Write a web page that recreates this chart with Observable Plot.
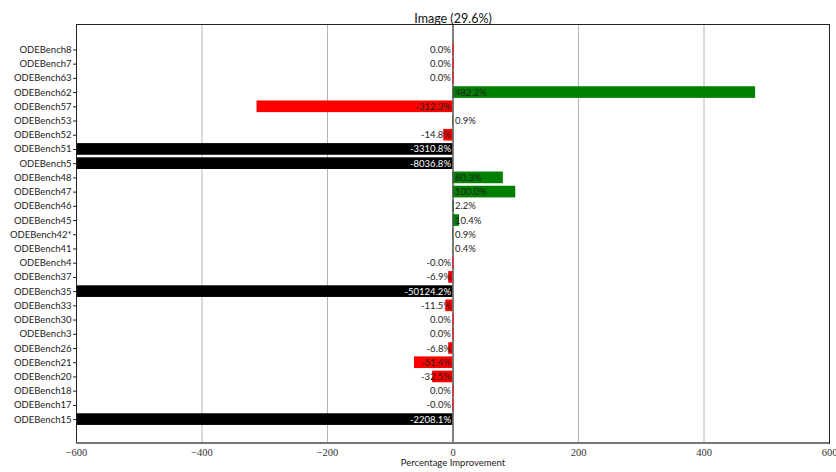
<!DOCTYPE html>
<html>
<head>
<meta charset="utf-8">
<script src="https://cdn.jsdelivr.net/npm/d3@7"></script>
<script src="https://cdn.jsdelivr.net/npm/@observablehq/plot@0.6"></script>
<style>
  html, body { margin: 0; padding: 0; background: #fff; }
  #chart svg { display: block; }
</style>
</head>
<body>
<div id="chart"></div>
<script>
// Benchmarks, top to bottom
const benchmarks = [
  "ODEBench8", "ODEBench7", "ODEBench63", "ODEBench62", "ODEBench57", "ODEBench53",
  "ODEBench52", "ODEBench51", "ODEBench5", "ODEBench48", "ODEBench47", "ODEBench46",
  "ODEBench45", "ODEBench42*", "ODEBench41", "ODEBench4", "ODEBench37", "ODEBench35",
  "ODEBench33", "ODEBench30", "ODEBench3", "ODEBench26", "ODEBench21", "ODEBench20",
  "ODEBench18", "ODEBench17", "ODEBench15"
];

// Percentage improvement per benchmark
const improvements = [
  0.0, 0.0, 0.0, 482.2, -312.3, 0.9,
  -14.8, -3310.8, -8036.8, 80.3, 100.0, 2.2,
  10.4, 0.9, 0.4, -0.01, -6.9, -50124.2,
  -11.5, 0.0, 0.0, -6.8, -61.4, -32.5,
  0.0, -0.01, -2208.1
];

const xTicks = [-600, -400, -200, 0, 200, 400, 600];
const gridValues = [-400, -200, 200, 400];
const xDomain = [-600, 600];
const titleText = "Image";
const titleShare = "(29.6%)";
const xLabel = "Percentage Improvement";

const rows = benchmarks.map((name, i) => ({ name, value: improvements[i] }));

const barColor = (v) => v < xDomain[0] ? "#000000" : v > 0 ? "#008000" : "#ff0000";
const fmt = (v) => (v < 0 ? "-" : "") + Math.abs(v).toFixed(1) + "%";
const minus = (v) => (v < 0 ? "\u2212" : "") + Math.abs(v);

const sans = "Lato, 'DejaVu Sans', sans-serif";
const serif = "'Liberation Serif', 'DejaVu Serif', serif";

const W = 836, H = 472;
const M = { left: 76, right: 7, top: 24, bottom: 29 };

const chart = Plot.plot({
  width: W,
  height: H,
  marginLeft: M.left,
  marginRight: M.right,
  marginTop: M.top,
  marginBottom: M.bottom,
  style: { fontFamily: sans, fontSize: "9.5px", background: "#fff", color: "#222" },
  x: { domain: xDomain },
  y: { domain: benchmarks, paddingInner: 0.18, paddingOuter: 1.324, align: 0.52, round: false },
  marks: [
    Plot.ruleX(gridValues, { stroke: "#b4b4b4", strokeWidth: 1 }),
    Plot.barX(rows, {
      x1: 0, x2: "value", y: "name",
      fill: (d) => barColor(d.value),
      clip: true
    }),
    Plot.ruleX([0], { stroke: "#555", strokeWidth: 1.5 }),
    Plot.tickX(rows.filter((d) => d.value <= 0 && d.value > -1), {
      x: 0, y: "name", stroke: "#ff0000", strokeWidth: 1
    }),
    Plot.text(rows.filter((d) => d.value <= 0), {
      x: 0, y: "name", text: (d) => fmt(d.value),
      textAnchor: "end", dx: -2,
      fill: (d) => d.value < xDomain[0] ? "#ffffff" : "#222",
      fontSize: 9.5,
      ariaLabel: "bar-labels"
    }),
    Plot.text(rows.filter((d) => d.value > 0), {
      x: 0, y: "name", text: (d) => fmt(d.value),
      textAnchor: "start", dx: 2,
      fill: "#222",
      fontSize: 9.5,
      ariaLabel: "bar-labels"
    }),
    Plot.frame({ stroke: "#222", strokeWidth: 1 }),
    Plot.axisY({
      tickSize: 3, tickPadding: 2, label: null,
      fontSize: 9.5, fill: "#222"
    }),
    Plot.axisX({
      ticks: xTicks, tickFormat: minus,
      tickSize: 0, tickPadding: 5, label: null,
      fontSize: 10.5, fill: "#333"
    }),
    Plot.text([titleText + " " + titleShare], {
      frameAnchor: "top", dy: -10, fontSize: 12.5, fill: "#111",
      ariaLabel: "title"
    }),
    Plot.text([xLabel], {
      frameAnchor: "bottom", dy: 22, fontSize: 9.5, fill: "#222"
    })
  ]
});

const svg = d3.select(chart);

// Bottom spine, drawn a little heavier in gray
svg.append("line")
  .attr("x1", M.left).attr("x2", W - M.right)
  .attr("y1", H - M.bottom).attr("y2", H - M.bottom)
  .attr("stroke", "#777").attr("stroke-width", 2);

// Serif numerals on the x axis
svg.selectAll('g[aria-label="x-axis tick label"]').attr("font-family", serif);

// Split "%" (and the title's share) into lighter serif tspans
svg.selectAll('g[aria-label="bar-labels"] text').each(function () {
  const t = d3.select(this);
  const s = t.text();
  const num = s.slice(0, -1);
  t.text(null);
  t.append("tspan").text(num);
  t.append("tspan").attr("fill", "#9a9a9a").attr("font-family", serif).attr("font-size", "11").text("%");
});
svg.selectAll('g[aria-label="title"] text').each(function () {
  const t = d3.select(this);
  t.text(null);
  t.append("tspan").text(titleText + " ");
  t.append("tspan").attr("fill", "#555").attr("font-family", serif).attr("font-size", "13").text(titleShare);
});

document.getElementById("chart").appendChild(chart);
</script>
</body>
</html>
